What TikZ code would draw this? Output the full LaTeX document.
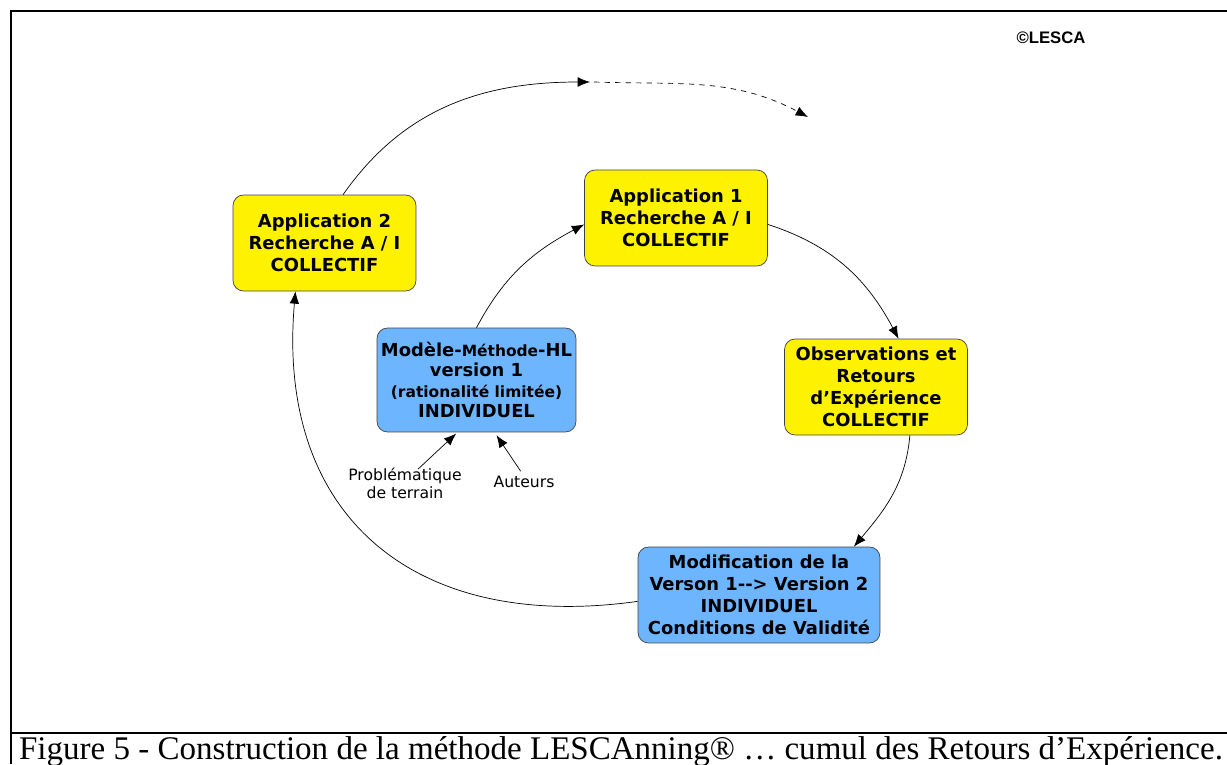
\documentclass[tikz,border=0pt]{standalone}
\usepackage{fontspec}
\setmainfont{Liberation Serif}
\newfontfamily\verd{DejaVu Sans}
\newfontfamily\arialf{Liberation Sans}
\usetikzlibrary{arrows.meta,positioning}
\definecolor{bleuclair}{RGB}{110,181,255}

\begin{document}
\begin{tikzpicture}[x=0.02cm,y=0.02cm,
  boite/.style={draw=black!75,rounded corners=6pt,align=center,inner sep=0pt,
    font=\verd\bfseries\fontsize{10.2}{12.5}\selectfont,
    minimum width=3.66cm,minimum height=1.92cm},
  jaune/.style={boite,fill=yellow},
  bleu/.style={boite,fill=bleuclair},
  fleche/.style={-{Latex[length=7pt,width=5.5pt]}},
  petit/.style={font=\verd\fontsize{8.9}{10.2}\selectfont,align=center,inner sep=1pt}]
\def\pt{\fontsize{8.8}{10}\selectfont}
\useasboundingbox (0,0) rectangle (1227,-764);

% cadre et legende
\draw[line width=1.2pt] (1227,-11) -- (11,-11) -- (11,-764);
\draw[line width=1.2pt] (11,-733) -- (1227,-733);
\node[anchor=base,font=\fontsize{18.8}{20}\selectfont,inner sep=0pt] (legende) at (621,-759)
  {Figure 5 - Construction de la méthode LESCAnning® … cumul des Retours d’Expérience.};
\node[font=\arialf\bfseries\fontsize{9.5}{11}\selectfont] (copy) at (1051,-38) {©LESCA};

% boites
\node[jaune] (app2) at (324.5,-243) {Application 2\\Recherche A / I\\COLLECTIF};
\node[jaune] (app1) at (676,-218) {Application 1\\Recherche A / I\\COLLECTIF};
\node[bleu,minimum width=3.98cm,minimum height=2.08cm,font=\verd\bfseries\fontsize{10.2}{11.5}\selectfont] (modele) at (476.5,-380)
  {Modèle-{\pt Méthode}-HL\\version 1\\{\pt(rationalité limitée)}\\INDIVIDUEL};
\node[jaune] (obs) at (876,-387) {Observations et\\Retours\\d’Expérience\\COLLECTIF};
\node[bleu,minimum width=4.84cm] (modif) at (759,-595)
  {Modification de la\\Verson 1-\kern0pt-\kern0pt> Version 2\\INDIVIDUEL\\Conditions de Validité};

\node[petit] (prob) at (405,-483) {Problématique\\de terrain};
\node[petit] (aut) at (524,-482) {Auteurs};

\coordinate (haut1) at (590,-82);
\coordinate (haut2) at (808,-117);

% cycle
\draw[fleche] (app2.69) to[out=55,in=180] (haut1);
\draw[fleche,dashed] (haut1) ++(4,0) to[out=-2,in=152] (haut2);
\draw[fleche] (modele.north) to[out=62,in=208] (app1.184);
\draw[fleche] (app1.356) to[out=-18,in=118] (obs.65);
\draw[fleche] (obs.-55) to[out=-95,in=50] (modif.27);
\draw[fleche] (modif.183) to[out=188,in=-95,looseness=1.25] (app2.239);

\draw[fleche,shorten <=-3pt,shorten >=1pt] (prob.46) -- (modele.250);
\draw[fleche,shorten <=2pt,shorten >=2pt] (aut.100) -- (modele.-71);

\end{tikzpicture}
\end{document}
